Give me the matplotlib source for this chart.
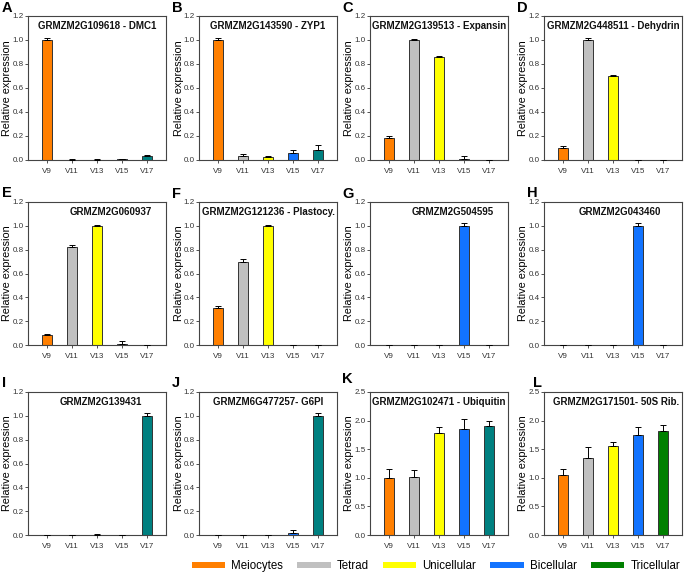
import matplotlib
matplotlib.use("Agg")
import matplotlib.pyplot as plt
from matplotlib.patches import Patch
import numpy as np

plt.rcParams['font.family'] = ['Liberation Sans', 'DejaVu Sans']

stages = ["V9", "V11", "V13", "V15", "V17"]
legend_labels = ["Meiocytes", "Tetrad", "Unicellular", "Bicellular", "Tricellular"]

c_orange = "#FF7F00"
c_gray = "#C0C0C0"
c_yellow = "#FFFF00"
c_blue = "#1273FF"
c_teal = "#008080"
c_green = "#008000"

panel_letters = ["A", "B", "C", "D", "E", "F", "G", "H", "I", "J", "K", "L"]
titles = ["GRMZM2G109618 - DMC1", "GRMZM2G143590 - ZYP1", "GRMZM2G139513 - Expansin",
          "GRMZM2G448511 - Dehydrin", "GRMZM2G060937", "GRMZM2G121236 - Plastocy.",
          "GRMZM2G504595", "GRMZM2G043460", "GRMZM2G139431", "GRMZM6G477257- G6PI",
          "GRMZM2G102471 - Ubiquitin", "GRMZM2G171501- 50S Rib."]

vals_A = [1.0, 0.003, 0.003, 0.005, 0.03]
err_A = [0.015, 0.002, 0.002, 0.003, 0.008]
vals_B = [1.0, 0.03, 0.025, 0.055, 0.08]
err_B = [0.015, 0.02, 0.01, 0.03, 0.045]
vals_C = [0.18, 1.0, 0.86, 0.01, 0.0]
err_C = [0.02, 0.012, 0.01, 0.02, 0.0]
vals_D = [0.10, 1.0, 0.70, 0.0, 0.0]
err_D = [0.015, 0.015, 0.01, 0.0, 0.0]
vals_E = [0.08, 0.82, 1.0, 0.01, 0.0]
err_E = [0.015, 0.015, 0.005, 0.025, 0.002]
vals_F = [0.31, 0.70, 1.0, 0.0, 0.0]
err_F = [0.02, 0.02, 0.005, 0.0, 0.0]
vals_G = [0.0, 0.0, 0.0, 1.0, 0.0]
err_G = [0.0, 0.0, 0.0, 0.02, 0.0]
vals_H = [0.0, 0.0, 0.0, 1.0, 0.0]
err_H = [0.0, 0.0, 0.0, 0.025, 0.0]
vals_I = [0.0, 0.002, 0.004, 0.0, 1.0]
err_I = [0.0, 0.0, 0.002, 0.0, 0.02]
vals_J = [0.0, 0.0, 0.0, 0.02, 1.0]
err_J = [0.0, 0.0, 0.0, 0.025, 0.02]
vals_K = [1.0, 1.01, 1.79, 1.85, 1.91]
err_K = [0.15, 0.12, 0.09, 0.18, 0.09]
vals_L = [1.05, 1.34, 1.55, 1.74, 1.82]
err_L = [0.10, 0.20, 0.07, 0.15, 0.11]

all_vals = [vals_A, vals_B, vals_C, vals_D, vals_E, vals_F, vals_G, vals_H, vals_I, vals_J, vals_K, vals_L]
all_errs = [err_A, err_B, err_C, err_D, err_E, err_F, err_G, err_H, err_I, err_J, err_K, err_L]

colors_default = [c_orange, c_gray, c_yellow, c_blue, c_teal]
colors_L = [c_orange, c_gray, c_yellow, c_blue, c_green]

W, H = 685, 577
fig = plt.figure(figsize=(W / 100, H / 100), dpi=100)

col_lr = [(28, 166), (199, 337), (370, 508), (544, 682)]
row_tb = [(16, 160), (202, 345), (392, 535)]
title_x = [0.5, 0.5, 0.5, 0.5, 0.6, 0.5, 0.6, 0.55, 0.53, 0.5, 0.5, 0.52]
letter_pos = [(2, 8), (172, 8), (342, 8), (517, 8),
              (2, 193), (172, 194), (342, 194), (527, 193),
              (2, 383), (172, 383), (342, 379), (533, 383)]

spine_c = "#444444"
for i in range(12):
    r, c = divmod(i, 4)
    l, rr = col_lr[c]
    t, b = row_tb[r]
    ax = fig.add_axes([l / W, 1 - b / H, (rr - l) / W, (b - t) / H])
    x = np.arange(len(stages))
    cols = colors_L if i == 11 else colors_default
    vals = all_vals[i]
    errs = all_errs[i]
    ax.bar(x, vals, width=0.42, color=cols, edgecolor="#333333", linewidth=0.7, zorder=2)
    ax.errorbar(x, vals, yerr=[np.zeros(len(vals)), errs], fmt='none', ecolor='black',
                elinewidth=0.7, capsize=2.2, capthick=0.7, zorder=3)
    ax.set_xlim(-0.75, 4.75)
    if i >= 10:
        ax.set_ylim(0, 2.5)
        ax.set_yticks(np.arange(0, 2.51, 0.5))
    else:
        ax.set_ylim(0, 1.2)
        ax.set_yticks(np.arange(0, 1.21, 0.2))
    ax.yaxis.set_major_formatter(matplotlib.ticker.FormatStrFormatter('%.1f'))
    ax.set_xticks(x)
    ax.set_xticklabels(stages)
    ax.tick_params(axis='both', labelsize=5.8, colors='#333333', length=2, width=0.6, pad=1.2)
    ax.tick_params(axis='x', pad=4)
    for s in ax.spines.values():
        s.set_color(spine_c)
        s.set_linewidth(0.8)
    ax.set_ylabel("Relative expression", fontsize=7.8)
    ax.yaxis.set_label_coords(-15.5 / (rr - l), 0.5)
    ax.text(title_x[i], 0.93, titles[i], transform=ax.transAxes, ha='center', va='center',
            fontsize=7, fontweight='bold', color='#111111')
    lx, ly = letter_pos[i]
    fig.text(lx / W, 1 - ly / H, panel_letters[i], fontsize=10.5, fontweight='bold',
             ha='left', va='center')

handles = [Patch(facecolor=cc, edgecolor='none') for cc in colors_L]
fig.legend(handles, legend_labels, loc='center', bbox_to_anchor=(436 / W, 1 - 566 / H),
           ncol=5, frameon=False, fontsize=8.3, handlelength=2.9, handleheight=0.5,
           columnspacing=1.2, handletextpad=0.55, borderpad=0.2)

fig.savefig("out.png", dpi=100)
